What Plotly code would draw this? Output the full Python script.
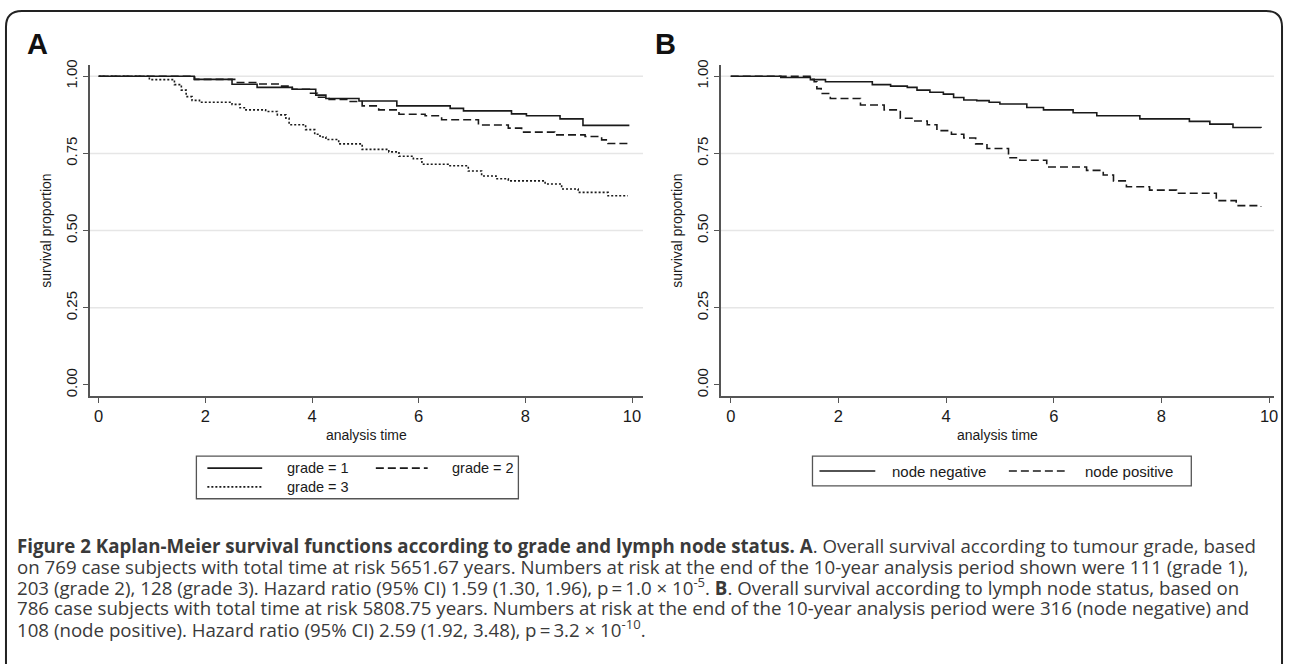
import plotly.graph_objects as go

# ---------------- data ----------------
grade1_t = [0, 1.79, 2.50, 2.97, 3.63, 4.07, 4.26, 4.88, 5.59, 6.59, 6.84, 7.74, 8.02, 8.65, 9.08, 9.95]
grade1_s = [1.0, 0.990, 0.974, 0.964, 0.958, 0.939, 0.928, 0.920, 0.904, 0.896, 0.888, 0.878, 0.872, 0.862, 0.841, 0.841]

grade2_t = [0, 1.80, 2.55, 3.00, 3.40, 3.63, 3.95, 4.10, 4.32, 4.69, 4.94, 5.25, 5.63, 6.12, 6.43, 7.12,
            7.68, 7.93, 8.55, 9.12, 9.43, 9.55, 9.95]
grade2_s = [1.0, 0.990, 0.980, 0.975, 0.968, 0.958, 0.945, 0.932, 0.925, 0.918, 0.904, 0.891, 0.877, 0.872,
            0.859, 0.842, 0.832, 0.819, 0.810, 0.805, 0.794, 0.782, 0.782]

grade3_t = [0, 0.95, 1.42, 1.55, 1.64, 1.75, 1.89, 2.50, 2.65, 2.76, 3.13, 3.35, 3.51, 3.57, 3.88, 4.05,
            4.15, 4.26, 4.50, 4.94, 5.44, 5.63, 5.90, 6.06, 6.55, 6.93, 7.18, 7.45, 7.68, 8.37, 8.68,
            8.99, 9.55, 9.92]
grade3_s = [1.0, 0.989, 0.973, 0.955, 0.934, 0.922, 0.916, 0.909, 0.898, 0.891, 0.886, 0.875, 0.864, 0.843,
            0.827, 0.812, 0.803, 0.795, 0.781, 0.763, 0.755, 0.741, 0.733, 0.715, 0.710, 0.693, 0.677,
            0.668, 0.661, 0.651, 0.635, 0.624, 0.613, 0.613]

nodeneg_t = [0, 0.93, 1.48, 1.76, 2.63, 2.97, 3.28, 3.46, 3.70, 3.95, 4.14, 4.33, 4.57, 4.80, 5.00, 5.50,
             5.81, 6.36, 6.80, 7.60, 8.52, 8.90, 9.33, 9.85]
nodeneg_s = [1.0, 0.996, 0.989, 0.982, 0.973, 0.968, 0.964, 0.955, 0.948, 0.942, 0.931, 0.923, 0.921, 0.916,
             0.910, 0.899, 0.891, 0.882, 0.872, 0.862, 0.854, 0.845, 0.834, 0.832]

nodepos_t = [0, 1.50, 1.55, 1.60, 1.68, 1.85, 2.41, 2.85, 3.15, 3.40, 3.65, 3.83, 4.10, 4.33, 4.55, 4.76,
             5.16, 5.37, 5.87, 6.61, 6.92, 7.11, 7.35, 7.78, 8.28, 9.02, 9.39, 9.85]
nodepos_s = [1.0, 0.990, 0.982, 0.960, 0.944, 0.928, 0.907, 0.891, 0.864, 0.855, 0.843, 0.824, 0.812, 0.800,
             0.781, 0.766, 0.736, 0.728, 0.706, 0.695, 0.680, 0.661, 0.642, 0.631, 0.621, 0.597, 0.581, 0.578]

x_ticks = [0, 2, 4, 6, 8, 10]
y_ticks = [0, 0.25, 0.5, 0.75, 1.0]
y_tick_labels = ["0.00", "0.25", "0.50", "0.75", "1.00"]
grid_values = [0.25, 0.5, 0.75, 1.0]

legend_a = ["grade = 1", "grade = 2", "grade = 3"]
legend_b = ["node negative", "node positive"]
x_title = "analysis time"
y_title = "survival proportion"

caption_lines = [
    "<b>Figure 2 Kaplan-Meier survival functions according to grade and lymph node status. A</b>. "
    "Overall survival according to tumour grade, based",
    "on 769 case subjects with total time at risk 5651.67 years. Numbers at risk at the end of the "
    "10-year analysis period shown were 111 (grade 1),",
    "203 (grade 2), 128 (grade 3). Hazard ratio (95% CI) 1.59 (1.30, 1.96), p\u2009=\u20091.0 \u00d7 10<sup>-5</sup>. "
    "<b>B</b>. Overall survival according to lymph node status, based on",
    "786 case subjects with total time at risk 5808.75 years. Numbers at risk at the end of the "
    "10-year analysis period were 316 (node negative) and",
    "108 (node positive). Hazard ratio (95% CI) 2.59 (1.92, 3.48), p\u2009=\u20093.2 \u00d7 10<sup>-10</sup>.",
]

# ---------------- layout helpers ----------------
W, H = 1292, 664
def px(x):
    return x / W
def py(y):
    return 1 - y / H

INK = "#1a1a1a"
AXIS = "#555555"
GRID = "#e6e6e6"
SANS = "Liberation Sans, Arial, sans-serif"
CAP = "Open Sans, Noto Sans, sans-serif"

SOLID = "solid"
DASH = "8px,4px"
DOT = "2px,2px"

fig = go.Figure()

def add_curve(t, s, dash, name, xa, ya):
    fig.add_trace(go.Scatter(x=t, y=s, mode="lines", line=dict(color=INK, width=1.6, dash=dash, shape="hv"),
                             name=name, xaxis=xa, yaxis=ya, showlegend=False))

add_curve(grade1_t, grade1_s, SOLID, legend_a[0], "x", "y")
add_curve(grade2_t, grade2_s, DASH, legend_a[1], "x", "y")
add_curve(grade3_t, grade3_s, DOT, legend_a[2], "x", "y")
add_curve(nodeneg_t, nodeneg_s, SOLID, legend_b[0], "x2", "y2")
add_curve(nodepos_t, nodepos_s, DASH, legend_b[1], "x2", "y2")

# panel geometry in pixels
A_L, A_R = 90, 645
B_L, B_R = 723, 1278
TOP, BOT = 60, 394
xA_rng = [(A_L - 99) / 53.5, (A_R - 99) / 53.5]
xB_rng = [(B_L - 733) / 54.0, (B_R - 733) / 54.0]
y_range = [-(BOT - 383) / 312.0, 1 + (71 - TOP) / 312.0]

def xaxis_cfg(dom, rng, anchor):
    return dict(domain=[px(dom[0]), px(dom[1])], range=rng, tickvals=x_ticks, ticks="outside", ticklen=5,
                tickwidth=1.2, tickcolor=AXIS, showline=True, linecolor=AXIS, linewidth=1.5, showgrid=False,
                zeroline=False, anchor=anchor, tickfont=dict(family=SANS, size=16.5, color=INK),
                title=dict(text=x_title, font=dict(family=SANS, size=14, color=INK), standoff=6))

def yaxis_cfg(rng, anchor):
    return dict(domain=[py(BOT), py(TOP)], range=rng, tickvals=y_ticks, ticktext=y_tick_labels,
                ticks="outside", ticklen=5, tickwidth=1.2, tickcolor=AXIS, tickangle=-90,
                showline=True, linecolor=AXIS, linewidth=1.5, showgrid=False, zeroline=False, anchor=anchor,
                tickfont=dict(family=SANS, size=15, color=INK),
                title=dict(text=y_title, font=dict(family=SANS, size=14, color=INK), standoff=8))

shapes = []
# horizontal grid lines
for xr, yr in (("x domain", "y"), ("x2 domain", "y2")):
    for g in grid_values:
        shapes.append(dict(type="line", xref=xr, yref=yr, x0=0, x1=1, y0=g, y1=g,
                           line=dict(color=GRID, width=1.5), layer="below"))

# outer frame with rounded top corners
r = 16
L, R, T, B = 6, 1286, 5, 700
path = (f"M {px(L)},{py(B)} L {px(L)},{py(T + r)} Q {px(L)},{py(T)} {px(L + r)},{py(T)} "
        f"L {px(R - r)},{py(T)} Q {px(R)},{py(T)} {px(R)},{py(T + r)} L {px(R)},{py(B)}")
shapes.append(dict(type="path", xref="paper", yref="paper", path=path, line=dict(color="#222222", width=2)))

annotations = []

# manual legends (boxes, keys, labels)
def legend_box(x0, y0, x1, y1):
    shapes.append(dict(type="rect", xref="paper", yref="paper", x0=px(x0), x1=px(x1), y0=py(y1), y1=py(y0),
                       line=dict(color="#555555", width=1.3), fillcolor="white"))

def legend_key(x0, x1, yc, dash, label, tx, size=15):
    shapes.append(dict(type="line", xref="paper", yref="paper", x0=px(x0), x1=px(x1), y0=py(yc), y1=py(yc),
                       line=dict(color=INK, width=1.6, dash=dash)))
    annotations.append(dict(text=label, xref="paper", yref="paper", x=px(tx), y=py(yc), xanchor="left",
                            yanchor="middle", showarrow=False, font=dict(family=SANS, size=size, color=INK)))

legend_box(197, 455, 520, 498)
legend_key(208, 263, 467, SOLID, legend_a[0], 286, 14.5)
legend_key(377, 429, 467, DASH, legend_a[1], 451, 14.5)
legend_key(208, 263, 486, DOT, legend_a[2], 286, 14.5)

legend_box(815, 455, 1195, 485)
legend_key(822, 878, 470, SOLID, legend_b[0], 893)
legend_key(1012, 1068, 470, DASH, legend_b[1], 1086)

# panel letters
for letter, lx in (("A", 38), ("B", 668)):
    annotations.append(dict(text=f"<b>{letter}</b>", xref="paper", yref="paper", x=px(lx), y=py(38),
                            xanchor="center", yanchor="middle", showarrow=False,
                            font=dict(family=SANS, size=29, color="#111111")))

# caption, one annotation per printed line
for i, line in enumerate(caption_lines):
    annotations.append(dict(text=line, xref="paper", yref="paper", x=px(15), y=py(545 + 21 * i),
                            xanchor="left", yanchor="middle", align="left", showarrow=False,
                            font=dict(family=CAP, size=18.7, color="#3a3a3a")))

fig.update_layout(
    width=W, height=H, margin=dict(l=0, r=0, t=0, b=0),
    paper_bgcolor="white", plot_bgcolor="white",
    xaxis=xaxis_cfg((A_L, A_R), xA_rng, "y"),
    yaxis=yaxis_cfg(y_range, "x"),
    xaxis2=xaxis_cfg((B_L, B_R), xB_rng, "y2"),
    yaxis2=yaxis_cfg(y_range, "x2"),
    shapes=shapes, annotations=annotations, showlegend=False,
)

fig.write_html("out.html")
